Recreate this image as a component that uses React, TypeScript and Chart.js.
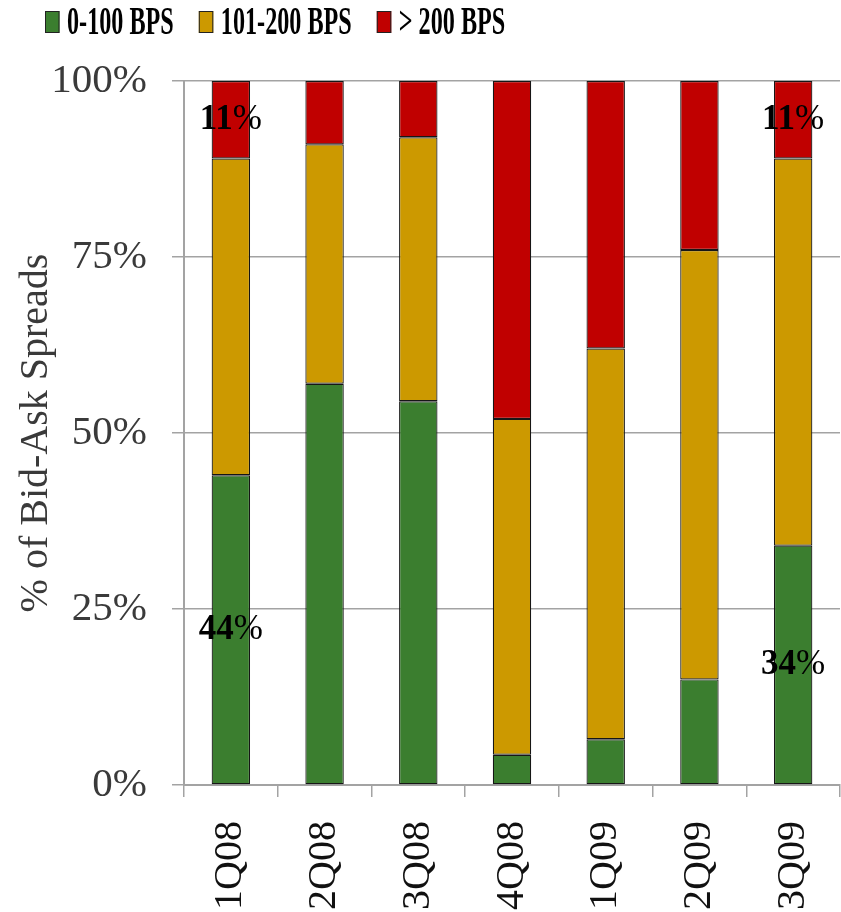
import React, { useEffect, useRef } from "react";
import { Chart, registerables } from "chart.js";

Chart.register(...registerables);

const quarters = ["1Q08", "2Q08", "3Q08", "4Q08", "1Q09", "2Q09", "3Q09"];
const lowSpread = [44, 57, 54.5, 4.3, 6.5, 15, 34];
const midSpread = [45, 34, 37.5, 47.7, 55.5, 61, 55];
const highSpread = [11, 9, 8, 48, 38, 24, 11];
const seriesNames = ["0-100 BPS", "101-200 BPS", "> 200 BPS"];
const yTicks = [0, 25, 50, 75, 100];
// [dataset, category] pairs whose share is printed on the bar
const labelledSegments: [number, number][] = [
  [0, 0],
  [0, 6],
  [2, 0],
  [2, 6],
];

const SERIF = '"Liberation Serif", "Times New Roman", serif';
const GREEN = "#3B7E2F";
const GOLD = "#CC9900";
const RED = "#C00000";
const GRID = "#a3a3a3";

// Condensed bold legend drawn across the top of the canvas
const condensedLegend = {
  id: "condensedLegend",
  afterDraw(chart: any) {
    const { ctx } = chart;
    const sx = 0.62;
    const boxW = 14.5;
    const boxH = 22;
    let x = 45;
    ctx.save();
    ctx.font = `bold 39px ${SERIF}`;
    ctx.textBaseline = "alphabetic";
    chart.data.datasets.forEach((ds: any) => {
      ctx.fillStyle = ds.backgroundColor;
      ctx.fillRect(x, 11, boxW, boxH);
      ctx.strokeStyle = "#222";
      ctx.lineWidth = 1;
      ctx.strokeRect(x + 0.5, 11.5, boxW - 1, boxH - 1);
      const tx = x + 22;
      ctx.save();
      ctx.translate(tx, 34);
      ctx.scale(sx, 1);
      ctx.fillStyle = "#000";
      ctx.fillText(ds.label, 0, 0);
      const w = ctx.measureText(ds.label).width * sx;
      ctx.restore();
      x = tx + w + 25;
    });
    ctx.restore();
  },
};

// Percentage labels centred on selected segments
const segmentLabels = {
  id: "segmentLabels",
  afterDatasetsDraw(chart: any) {
    const { ctx } = chart;
    ctx.save();
    ctx.textBaseline = "middle";
    ctx.fillStyle = "#000";
    labelledSegments.forEach(([di, idx]) => {
      const el = chart.getDatasetMeta(di).data[idx];
      if (!el) return;
      const value = chart.data.datasets[di].data[idx];
      const num = String(Math.round(value));
      const cy = (el.y + el.base) / 2;
      ctx.font = `bold 35px ${SERIF}`;
      const wNum = ctx.measureText(num).width;
      ctx.font = `35px ${SERIF}`;
      const wPct = ctx.measureText("%").width;
      const left = el.x - (wNum + wPct) / 2;
      ctx.textAlign = "left";
      ctx.font = `bold 35px ${SERIF}`;
      ctx.fillText(num, left, cy);
      ctx.font = `35px ${SERIF}`;
      ctx.fillText("%", left + wNum, cy);
    });
    ctx.restore();
  },
};

export default function App() {
  const canvasRef = useRef<HTMLCanvasElement | null>(null);

  useEffect(() => {
    if (!canvasRef.current) return;
    const mk = (label: string, data: number[], color: string) => ({
      label,
      data,
      backgroundColor: color,
      borderColor: "#161616",
      borderWidth: 1.2,
      borderSkipped: false,
      categoryPercentage: 1,
      barPercentage: 0.41,
    });
    const chart = new Chart(canvasRef.current, {
      type: "bar",
      data: {
        labels: quarters,
        datasets: [
          mk(seriesNames[0], lowSpread, GREEN),
          mk(seriesNames[1], midSpread, GOLD),
          mk(seriesNames[2], highSpread, RED),
        ],
      },
      options: {
        animation: false,
        responsive: false,
        maintainAspectRatio: false,
        layout: { padding: { top: 81, left: 8, right: 1, bottom: 0 } },
        plugins: {
          legend: { display: false },
          tooltip: { enabled: false },
        },
        scales: {
          x: {
            stacked: true,
            grid: {
              display: true,
              drawOnChartArea: false,
              drawTicks: true,
              tickLength: 12,
              offset: true,
              color: GRID,
              lineWidth: 1.5,
            },
            border: { color: GRID, width: 2 },
            ticks: {
              minRotation: 90,
              maxRotation: 90,
              padding: 24,
              color: "#111",
              font: { family: SERIF, size: 40 },
            },
            afterFit: (s: any) => {
              s.height = 127;
              s.paddingLeft = 0;
              s.paddingRight = 0;
            },
          },
          y: {
            stacked: true,
            min: 0,
            max: 100,
            afterBuildTicks: (s: any) => {
              s.ticks = yTicks.map((v) => ({ value: v }));
            },
            grid: {
              color: GRID,
              lineWidth: 1.5,
              tickLength: 12,
              drawTicks: true,
            },
            border: { color: GRID, width: 2 },
            ticks: {
              padding: 25,
              color: "#3a3a3a",
              font: { family: SERIF, size: 41 },
              callback: (v: any) => `${v}%`,
            },
            title: {
              display: true,
              text: "% of Bid-Ask Spreads",
              color: "#3a3a3a",
              font: { family: SERIF, size: 40 },
            },
            afterFit: (s: any) => {
              s.width = 176;
            },
          },
        },
      },
      plugins: [condensedLegend, segmentLabels],
    });
    return () => chart.destroy();
  }, []);

  return (
    <div style={{ position: "fixed", left: 0, top: 0, width: 841, height: 912, background: "#fff" }}>
      <canvas ref={canvasRef} width={841} height={912} style={{ display: "block" }} />
    </div>
  );
}
